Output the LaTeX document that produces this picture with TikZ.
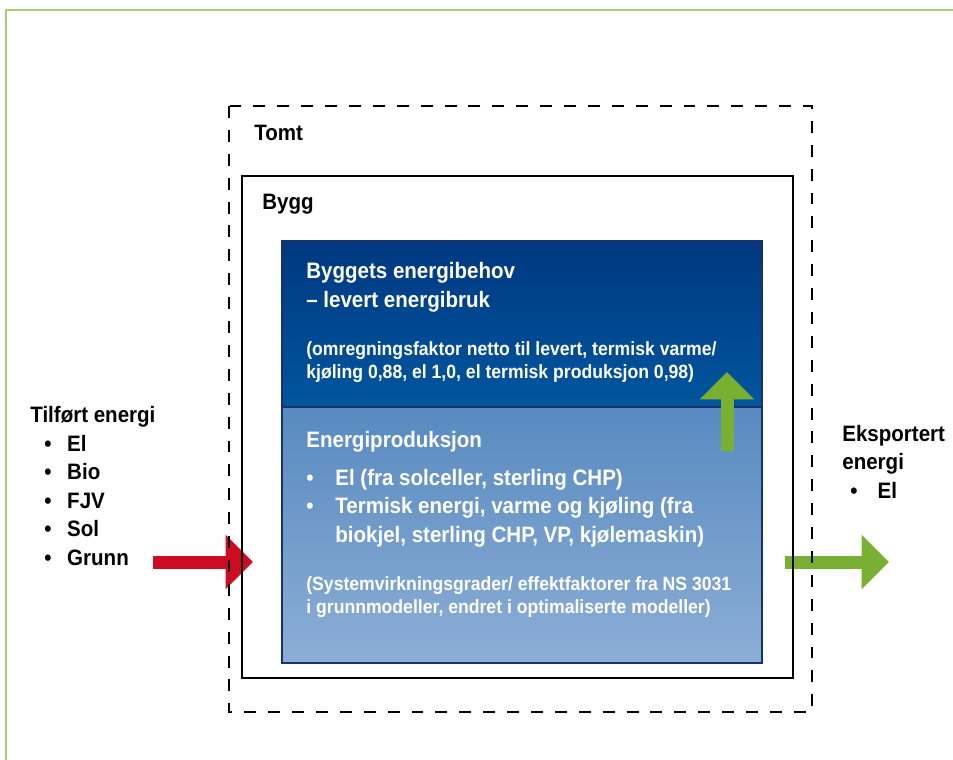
\documentclass[tikz,border=0pt]{standalone}
\usepackage{fontspec}
\setmainfont{Liberation Sans}[FakeStretch=0.92]
\usepackage{tikz}
\usetikzlibrary{arrows.meta}
\definecolor{ramme}{RGB}{166,206,112}
\definecolor{pilgr}{RGB}{122,176,50}
\definecolor{pilrd}{RGB}{205,12,35}
\definecolor{morktopp}{RGB}{0,56,128}
\definecolor{morkbunn}{RGB}{0,86,158}
\definecolor{lystopp}{RGB}{88,138,192}
\definecolor{lysbunn}{RGB}{140,174,214}
\definecolor{kant}{RGB}{20,50,110}
\tikzset{stor/.style={font=\fontsize{12.7}{16.2}\selectfont\bfseries,inner sep=0,align=left,anchor=base west},
  liten/.style={font=\fontsize{10.9}{12.8}\selectfont\bfseries,inner sep=0,align=left,anchor=base west},
  blokkpil/.style={line width=0.26cm,-{Triangle[length=0.55cm,width=1.06cm]}}}
\newcommand{\pkt}[1]{\makebox[#1][l]{\textbullet}}

\begin{document}
\begin{tikzpicture}[x=0.02cm,y=-0.02cm]
    \useasboundingbox (0,0) rectangle (953,760);
    \draw[ramme,line width=0.04cm] (6,760) -- (6,10) -- (953,10);

    \coordinate (innA) at (153,562);
    \coordinate (innB) at (253,562);
    \coordinate (utA) at (785,562);
    \coordinate (utB) at (889,562);
    \draw[blokkpil,pilrd] (innA) -- (innB);
    \draw[blokkpil,pilgr] (utA) -- (utB);

    \draw[line width=1.1pt,dash pattern=on 6.8pt off 6.8pt] (229,106) rectangle (812,712);
    \draw[line width=1.1pt] (242,176) rectangle (793,678);

    \shade[top color=morktopp,bottom color=morkbunn] (282,241) rectangle (762,407);
    \shade[top color=lystopp,bottom color=lysbunn] (282,407) rectangle (762,663);
    \draw[kant,line width=0.6pt] (282,241) rectangle (762,663);
    \draw[kant,line width=0.6pt] (282,407) -- (762,407);

    \coordinate (oppA) at (727,451);
    \coordinate (oppB) at (727,372);
    \draw[blokkpil,pilgr] (oppA) -- (oppB);

    \node[stor] (tomt) at (254,141) {Tomt};
    \node[stor] (bygg) at (262,210) {Bygg};
    \node[stor,white] (behov) at (306,307) {Byggets energibehov\\– levert energibruk};
    \node[liten,white] (faktor) at (306,378) {(omregningsfaktor netto til levert, termisk varme/\\kjøling 0,88, el 1,0, el termisk produksjon 0,98)};
    \node[stor,white] (prod) at (306,542) {Energiproduksjon\\[5pt]
      \pkt{16.5pt}El (fra solceller, sterling CHP)\\
      \pkt{16.5pt}Termisk energi, varme og kjøling (fra\\
      \hspace*{16.5pt}biokjel, sterling CHP, VP, kjølemaskin)};
    \node[liten,white] (system) at (306,613) {(Systemvirkningsgrader/ effektfaktorer fra NS 3031\\i grunnmodeller, endret i optimaliserte modeller)};
    \node[stor] (tilfort) at (30,565) {Tilført energi\\
      \hspace*{8pt}\pkt{13pt}El\\
      \hspace*{8pt}\pkt{13pt}Bio\\
      \hspace*{8pt}\pkt{13pt}FJV\\
      \hspace*{8pt}\pkt{13pt}Sol\\
      \hspace*{8pt}\pkt{13pt}Grunn};
    \node[stor] (eksport) at (842,498) {Eksportert\\energi\\
      \hspace*{4.6pt}\pkt{15.5pt}El};
\end{tikzpicture}
\end{document}
